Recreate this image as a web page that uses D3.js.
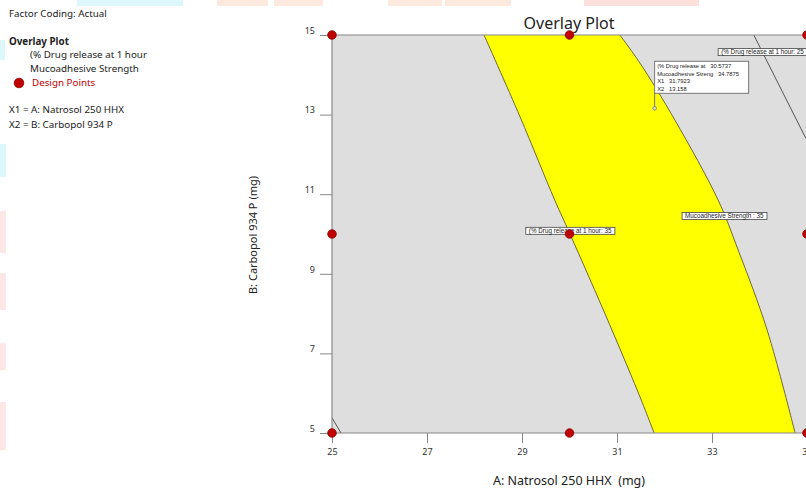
<!DOCTYPE html>
<html>
<head>
<meta charset="utf-8">
<script src="https://cdn.jsdelivr.net/npm/d3@7"></script>
<style>
  html, body { margin: 0; padding: 0; background: #fff; }
  svg { display: block; font-family: "Noto Sans", "Open Sans", sans-serif; }
</style>
</head>
<body>
<svg id="chart" width="806" height="490"></svg>
<script>
// Factor ranges and ticks
const xDomain = [25, 35];
const yDomain = [5, 15];
const xTicks = [25, 27, 29, 31, 33, 35];
const yTicks = [5, 7, 9, 11, 13, 15];

// Design points of the factorial design (A, B)
const designA = [25, 25, 25, 30, 30, 30, 35, 35, 35];
const designB = [5, 10, 15, 5, 10, 15, 5, 10, 15];

// Contour: % Drug release at 1 hour = 35 (left edge of the overlay window)
const releaseA35 = [28.20, 28.96, 29.69, 30.01, 30.85, 31.51, 31.78];
const releaseB35 = [15.00, 12.94, 10.85, 10.00, 7.71, 5.83, 5.00];

// Contour: Mucoadhesive Strength = 35 (right edge of the overlay window)
const mucoA35 = [31.06, 31.48, 32.22, 33.13, 33.55, 34.16, 34.75];
const mucoB35 = [15.00, 14.30, 12.86, 10.85, 9.60, 7.59, 5.00];

// Contour: % Drug release at 1 hour = 25
const releaseA25 = [33.88, 34.96, 35.20];
const releaseB25 = [15.00, 12.44, 12.00];

// Short contour in the lower-left corner
const cornerA = [25.00, 25.19];
const cornerB = [5.38, 5.00];

// Flag values at the selected point
const flagLines = ["(% Drug release at   30.5737", "Mucoadhesive Streng   34.7875", "X1   31.7923", "X2   13.158"];
const flagA = 31.7923;
const flagB = 13.158;

// Contour labels: text, A, B
const contourLabelText = ["(% Drug release at 1 hour: 35", "Mucoadhesive Strength : 35", "(% Drug release at 1 hour: 25"];
const contourLabelA = [29.08, 32.37, 33.13];
const contourLabelB = [10.08, 10.45, 14.57];

const legendLines = ["(% Drug release at 1 hour", "Mucoadhesive Strength"];

const svg = d3.select("#chart");

// faint coloured strips along the page edges
const strips = [
  [77, 0, 106, 6, "#dcf8fc"], [217, 0, 51, 6, "#fde9dd"], [274, 0, 49, 6, "#fde9dd"],
  [388, 0, 54, 6, "#fde9dd"], [445, 0, 66, 6, "#fde9dd"], [584, 0, 115, 6, "#fde0dc"],
  [0, 40, 5, 20, "#dcf8fc"], [0, 144, 6, 33, "#dcf8fc"], [0, 211, 6, 42, "#fde6e6"],
  [0, 273, 6, 37, "#fde6e6"], [0, 343, 6, 27, "#fde6e6"], [0, 402, 6, 48, "#fde6e6"]
];
svg.append("g").selectAll("rect").data(strips).join("rect")
  .attr("x", d => d[0]).attr("y", d => d[1]).attr("width", d => d[2]).attr("height", d => d[3])
  .attr("fill", d => d[4]);

const plotL = 332, plotR = 807, plotT = 35, plotB = 433;
const x = d3.scaleLinear().domain(xDomain).range([plotL, plotR]);
const y = d3.scaleLinear().domain(yDomain).range([plotB, plotT]);

// plot background
svg.append("rect").attr("x", plotL).attr("y", plotT)
  .attr("width", plotR - plotL).attr("height", plotB - plotT).attr("fill", "#dedede");

const pts = (as, bs) => as.map((a, i) => [a, bs[i]]);
const line = d3.line().x(d => x(d[0])).y(d => y(d[1])).curve(d3.curveCatmullRom.alpha(0.5));
const lineLin = d3.line().x(d => x(d[0])).y(d => y(d[1]));

// overlay window (yellow)
const leftEdge = pts(releaseA35, releaseB35);
const rightEdge = pts(mucoA35, mucoB35).reverse();
const winPath = line(leftEdge) + line(rightEdge).replace(/^M/, "L") + "Z";
svg.append("path").attr("d", winPath).attr("fill", "#ffff00");

// contour lines
const gc = svg.append("g").attr("fill", "none").attr("stroke", "#555").attr("stroke-width", 1);
gc.append("path").attr("d", line(leftEdge)).attr("stroke", "#6b6b3a");
gc.append("path").attr("d", line(pts(mucoA35, mucoB35))).attr("stroke", "#6b6b3a");
gc.append("path").attr("d", lineLin(pts(releaseA25, releaseB25)));
gc.append("path").attr("d", lineLin(pts(cornerA, cornerB)));

// plot frame
svg.append("g").attr("stroke", "#888").attr("stroke-width", 1.2).attr("fill", "none")
  .call(g => {
    g.append("line").attr("x1", plotL).attr("x2", plotR).attr("y1", plotT).attr("y2", plotT);
    g.append("line").attr("x1", plotL).attr("x2", plotR).attr("y1", plotB).attr("y2", plotB);
    g.append("line").attr("x1", plotL).attr("x2", plotL).attr("y1", plotT).attr("y2", plotB);
  });

// axes
const xAxis = svg.append("g").attr("transform", `translate(0,${plotB})`)
  .call(d3.axisBottom(x).tickValues(xTicks).tickSize(10).tickPadding(6).tickFormat(d3.format("d")));
xAxis.select(".domain").remove();
xAxis.selectAll("line").attr("stroke", "#888");
xAxis.selectAll("text").attr("font-size", 9).attr("fill", "#333")
  .attr("font-family", "Noto Sans, sans-serif");

const yAxis = svg.append("g").attr("transform", `translate(${plotL},0)`)
  .call(d3.axisLeft(y).tickValues(yTicks).tickSize(12).tickPadding(5).tickFormat(d3.format("d")));
yAxis.select(".domain").remove();
yAxis.selectAll("line").attr("stroke", "#888");
yAxis.selectAll("text").attr("font-size", 9).attr("fill", "#333").attr("dy", "-0.2em")
  .attr("font-family", "Noto Sans, sans-serif");

// axis titles
svg.append("text").attr("x", 569).attr("y", 485).attr("text-anchor", "middle")
  .attr("font-size", 12.5).attr("fill", "#222").attr("xml:space", "preserve")
  .style("white-space", "pre").text("A: Natrosol 250 HHX  (mg)");
svg.append("text").attr("transform", "translate(257,235) rotate(-90)").attr("text-anchor", "middle")
  .attr("font-size", 11).attr("fill", "#222").text("B: Carbopol 934 P (mg)");

// chart title
svg.append("text").attr("x", 569).attr("y", 29).attr("text-anchor", "middle")
  .attr("font-size", 16).attr("fill", "#222").text("Overlay Plot");

// contour labels in boxes
const lab = svg.append("g").selectAll("g").data(contourLabelText).join("g")
  .attr("transform", (d, i) => `translate(${x(contourLabelA[i])},${y(contourLabelB[i])})`);
lab.append("text").attr("x", 3).attr("y", 2.2).attr("font-size", 6.3).attr("fill", "#222")
  .attr("font-family", "Liberation Sans, sans-serif").text(d => d);
lab.each(function () {
  const g = d3.select(this);
  const bb = g.select("text").node().getBBox();
  g.insert("rect", "text").attr("x", 0).attr("y", -3.5)
    .attr("width", bb.width + 6).attr("height", 7)
    .attr("fill", "#fff").attr("stroke", "#444").attr("stroke-width", 0.8);
});

// flag on the selected point
const fx = x(flagA), fy = y(flagB);
const flag = svg.append("g");
flag.append("line").attr("x1", fx).attr("x2", fx).attr("y1", fy).attr("y2", fy - 15)
  .attr("stroke", "#777").attr("stroke-width", 1);
flag.append("circle").attr("cx", fx).attr("cy", fy).attr("r", 1.8)
  .attr("fill", "#ddd").attr("stroke", "#777").attr("stroke-width", 0.8);
flag.append("rect").attr("x", fx).attr("y", fy - 47).attr("width", 94).attr("height", 32)
  .attr("fill", "#fff").attr("stroke", "#777").attr("stroke-width", 1);
flag.selectAll("text").data(flagLines).join("text")
  .attr("x", fx + 2.5).attr("y", (d, i) => fy - 40 + i * 7.4)
  .attr("font-size", 5.8).attr("fill", "#222").attr("font-family", "Liberation Sans, sans-serif")
  .attr("xml:space", "preserve").style("white-space", "pre").text(d => d);

// design points
svg.append("g").selectAll("circle").data(designA).join("circle")
  .attr("cx", d => x(d)).attr("cy", (d, i) => y(designB[i])).attr("r", 4.3)
  .attr("fill", "#c00000").attr("stroke", "#8a0000").attr("stroke-width", 0.8);

// legend / side panel
const side = svg.append("g").attr("fill", "#222").attr("font-size", 9.8);
side.append("text").attr("x", 9).attr("y", 17).text("Factor Coding: Actual");
side.append("text").attr("x", 9).attr("y", 45).attr("font-weight", "bold").text("Overlay Plot");
side.selectAll(".ll").data(legendLines).join("text").attr("class", "ll")
  .attr("x", 30).attr("y", (d, i) => 58 + i * 14).text(d => d);
side.append("circle").attr("cx", 19).attr("cy", 83).attr("r", 4.8)
  .attr("fill", "#c00000").attr("stroke", "#8a0000").attr("stroke-width", 0.8);
side.append("text").attr("x", 32).attr("y", 86).attr("fill", "#c00000").text("Design Points");
side.append("text").attr("x", 9).attr("y", 113).text("X1 = A: Natrosol 250 HHX");
side.append("text").attr("x", 9).attr("y", 128).text("X2 = B: Carbopol 934 P");
</script>
</body>
</html>
